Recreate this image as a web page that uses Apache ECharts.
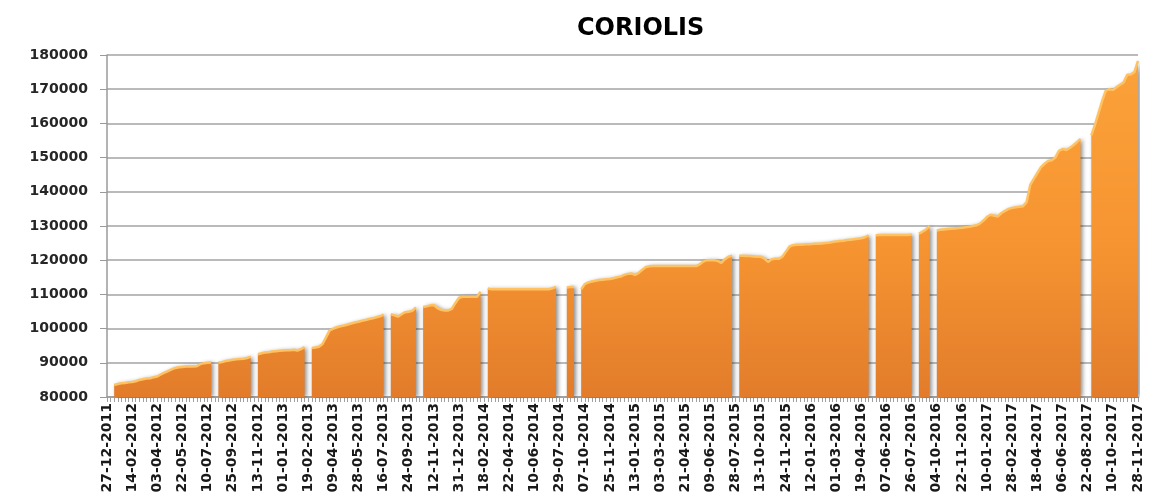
<!DOCTYPE html>
<html>
<head>
    <meta charset="utf-8">
    <title>CORIOLIS</title>
    <script src="https://cdn.jsdelivr.net/npm/echarts@6/dist/echarts.min.js"></script>
    <style>
        html, body { margin: 0; padding: 0; background: #fff; }
    </style>
</head>
<body>
<div id="main" style="width: 1149px;height:498px;"></div>

<script type="text/javascript">
    // tick labels, one every 7 points
    var tickLabels = [
        '27-12-2011',
        '14-02-2012', '03-04-2012', '22-05-2012', '10-07-2012', '25-09-2012', '13-11-2012',
        '01-01-2013', '19-02-2013', '09-04-2013', '28-05-2013', '16-07-2013', '24-09-2013', '12-11-2013', '31-12-2013',
        '18-02-2014', '22-04-2014', '10-06-2014', '29-07-2014', '07-10-2014', '25-11-2014',
        '13-01-2015', '03-03-2015', '21-04-2015', '09-06-2015', '28-07-2015', '13-10-2015', '24-11-2015',
        '12-01-2016', '01-03-2016', '19-04-2016', '07-06-2016', '26-07-2016', '04-10-2016', '22-11-2016',
        '10-01-2017', '28-02-2017', '18-04-2017', '06-06-2017', '22-08-2017', '10-10-2017', '28-11-2017'
    ];

    // values, null = no value (gap)
    var run2012a = [null, null,
        83500, 83800, 84000, 84100, 84300, 84400, 84600, 85000, 85200, 85400,
        85500, 85800, 86000, 86600, 87100, 87600, 88100, 88500, 88700, 88800,
        88900, 88900, 88900, 89000, 89600, 89900, 90000, 90100, null];
    var run2012b = [90000, 90200, 90500, 90700, 90900, 91000, 91100, 91200, 91400, 91800, null];
    var run2013a = [92500, 92800, 93000, 93100, 93300, 93400, 93500, 93600, 93700, 93700,
        93800, 93600, 94000, 94600, null];
    var run2013b = [94300, 94500, 94700, 95500, 97500, 99500, 100000, 100400, 100700, 100900,
        101200, 101500, 101800, 102000, 102300, 102500, 102800, 103000, 103300, 103600, 104100, null];
    var run2013c = [104200, 103900, 103500, 104200, 104800, 104900, 105200, 106200, null];
    var run2014a = [106300, 106500, 106800, 106900, 106000, 105500, 105300, 105300, 105800, 107500,
        109000, 109300, 109300, 109300, 109300, 109300, 110800, null];
    var run2014b = [111700, 111500, 111500, 111500, 111500, 111500, 111500, 111500, 111500, 111500,
        111500, 111500, 111500, 111500, 111500, 111500, 111500, 111500, 111800, 112200, null, null];
    var run2014c = [112000, 112200, 112200, null];
    var run2015a = [111500, 113000, 113500, 113800, 114000, 114200, 114300, 114400, 114500, 114700,
        115000, 115200, 115700, 116000, 116100, 115700, 116300, 117200, 118000, 118200,
        118300, 118300, 118300, 118300, 118300, 118300, 118300, 118300, 118300, 118300,
        118300, 118300, 118300, 118800, 119600, 120000, 120000, 120000, 119800, 119200,
        120300, 121000, 121300, null];
    var run2015b = [121300, 121300, 121200, 121200, 121100, 121000, 121000, 120500, 119500, 120300,
        120400, 120400, 121000, 122500, 124000, 124400, 124500, 124500, 124600, 124700,
        124700, 124800, 124800, 124900, 125000, 125100, 125300, 125500, 125600, 125700,
        125900, 126000, 126100, 126300, 126400, 126700, 127300, null];
    var run2016a = [127300, 127400, 127400, 127400, 127400, 127400, 127400, 127400, 127400, 127400, 127500, null];
    var run2016b = [127800, 128300, 129000, 130000, null];
    var run2017a = [128700, 128900, 129000, 129100, 129200, 129300, 129400, 129500, 129600, 129800,
        130000, 130200, 130700, 131600, 132700, 133300, 133000, 132800, 133800, 134400,
        135000, 135300, 135500, 135600, 135800, 137000, 142000, 143800, 145500, 147200,
        148200, 149000, 149200, 150000, 152000, 152500, 152200, 152800, 153600, 154500,
        155500, null, null];
    var run2017b = [156500, 159500, 163000, 166500, 169500, 170000, 169800, 170600, 171300, 172000,
        174200, 174300, 175000, 178300];

    var values = [].concat(run2012a, run2012b, run2013a, run2013b, run2013c, run2014a, run2014b,
        run2014c, run2015a, run2015b, run2016a, run2016b, run2017a, run2017b);

    var categories = [];
    for (var i = 0; i < values.length; i++) {
        categories.push(i % 7 === 0 ? tickLabels[i / 7] : 'p' + i);
    }

    var myChart = echarts.init(document.getElementById('main'));

    myChart.setOption({
        animation: false,
        title: {
            text: 'CORIOLIS',
            left: 572,
            top: 12,
            textStyle: {
                fontFamily: 'DejaVu Sans',
                fontWeight: 'bold',
                fontSize: 24,
                color: '#000'
            }
        },
        grid: {
            left: 107,
            right: 11,
            top: 55,
            bottom: 101
        },
        xAxis: {
            type: 'category',
            data: categories,
            boundaryGap: false,
            axisLine: { lineStyle: { color: '#9a9a9a', width: 1.5 } },
            axisTick: {
                interval: 0,
                length: 5,
                lineStyle: { color: '#a0a0a0' }
            },
            axisLabel: {
                interval: 6,
                rotate: 90,
                margin: 6,
                fontFamily: 'DejaVu Sans',
                fontWeight: 'bold',
                fontSize: 14,
                color: '#1a1a1a',
                formatter: function (value, index) {
                    return tickLabels[index / 7];
                }
            },
            splitLine: { show: false }
        },
        yAxis: {
            type: 'value',
            min: 80000,
            max: 180000,
            interval: 10000,
            axisLine: { show: true, lineStyle: { color: '#9a9a9a', width: 1.5 } },
            axisTick: { show: true, length: 7, lineStyle: { color: '#9a9a9a' } },
            axisLabel: {
                margin: 19,
                fontFamily: 'DejaVu Sans',
                fontWeight: 'bold',
                fontSize: 14,
                color: '#262626',
                formatter: function (v) {
                    return String(v);
                }
            },
            splitLine: { lineStyle: { color: '#a3a3a3', width: 1.5 } }
        },
        series: [{
            name: 'CORIOLIS',
            type: 'line',
            data: values,
            connectNulls: false,
            showSymbol: false,
            symbol: 'none',
            lineStyle: {
                color: '#ffc262',
                width: 2.5
            },
            areaStyle: {
                opacity: 1,
                color: new echarts.graphic.LinearGradient(0, 0, 0, 1, [
                    { offset: 0, color: '#fba23a' },
                    { offset: 0.55, color: '#f69431' },
                    { offset: 1, color: '#e27c2b' }
                ]),
                shadowColor: 'rgba(0, 0, 0, 0.45)',
                shadowBlur: 4,
                shadowOffsetX: 2
            }
        }]
    });
</script>

</body>
</html>
